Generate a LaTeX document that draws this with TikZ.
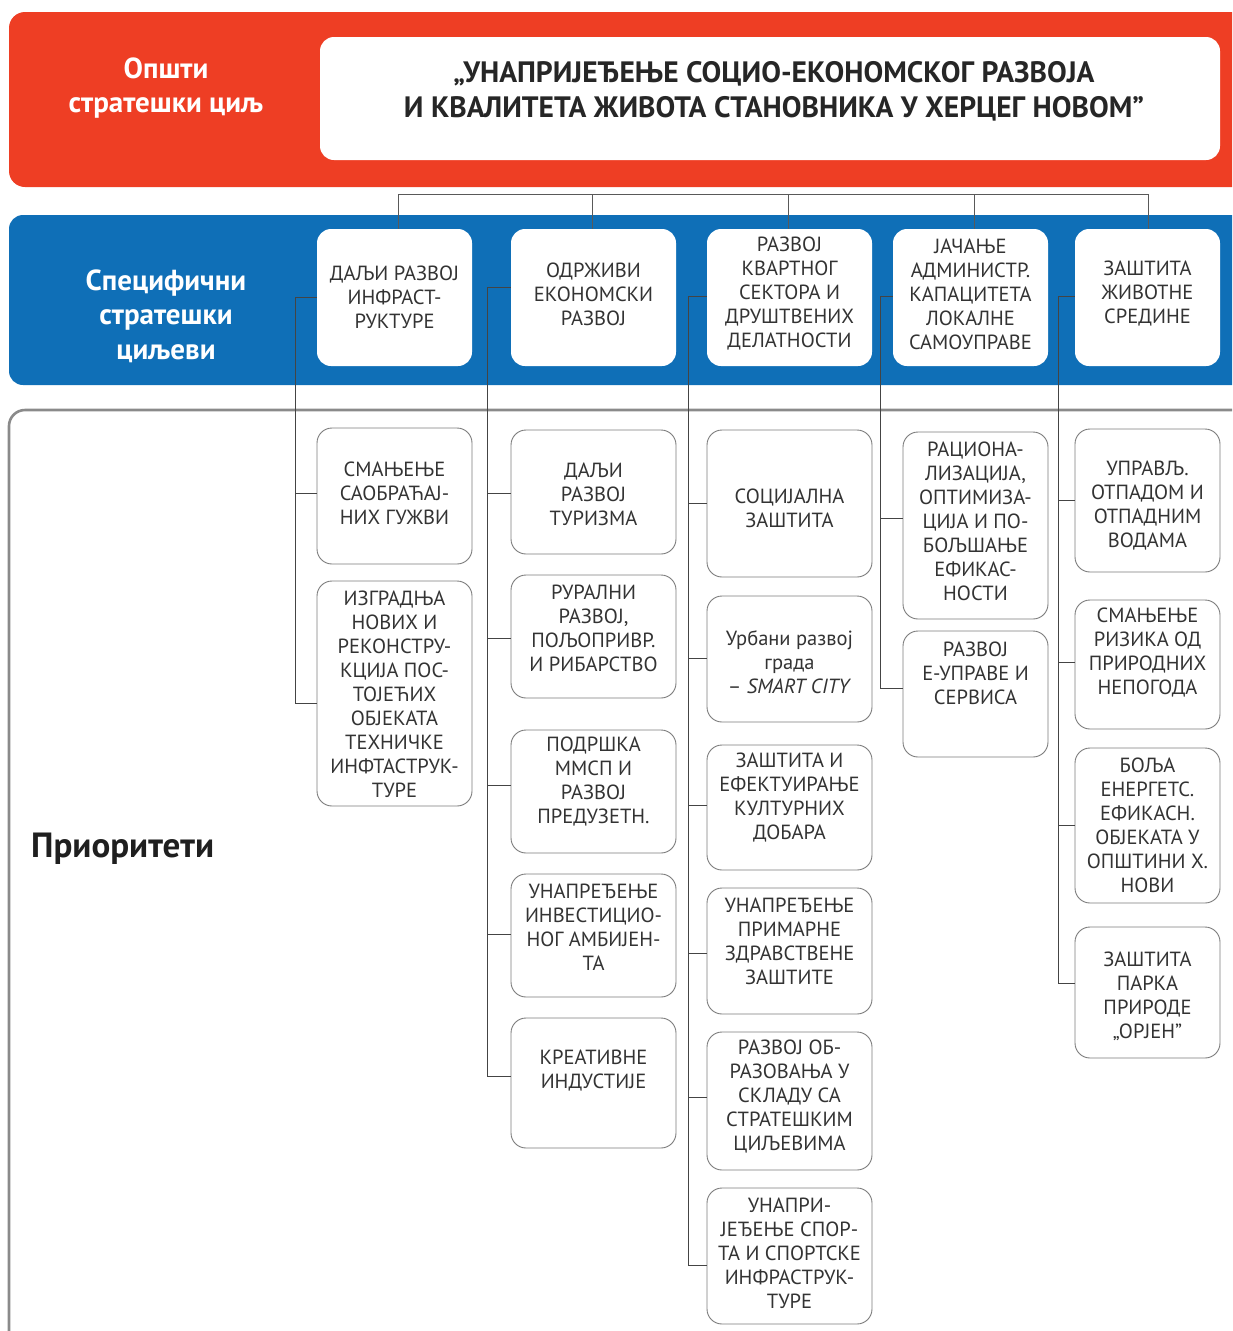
\documentclass[tikz,border=0pt]{standalone}
\usepackage{fontspec}
\setmainfont{PT Sans}
\usetikzlibrary{calc}
\definecolor{bandred}{HTML}{EE3E24}
\definecolor{bandblue}{HTML}{0F6FB7}
\definecolor{txt}{HTML}{333333}
\definecolor{frame}{HTML}{8A8A8A}
\definecolor{conncol}{HTML}{444444}
\tikzset{
  specbox/.style={fill=white, draw=none, rounded corners=14pt, inner sep=0pt},
  pbox/.style={fill=white, draw=frame!90!black, line width=0.9pt, rounded corners=15pt, inner sep=0pt},
  btext/.style={align=center, inner sep=0pt, text=txt, font=\fontsize{20.5}{24}\selectfont},
  conn/.style={draw=conncol, line width=1pt},
  sidelabel/.style={align=center, inner sep=0pt, text=white, font=\bfseries\fontsize{29}{34.5}\selectfont},
}
% style, name, x1, y1, x2, y2, ytext, text
\newcommand\boxat[8]{%
  \node[#1, minimum width={#5pt-#3pt}, minimum height={#6pt-#4pt}] (#2) at ({(#3+#5)/2},{(#4+#6)/2}) {};
  \node[btext] (#2t) at ({(#3+#5)/2},#7) {#8};}
\begin{document}
\begin{tikzpicture}[x=1pt,y=-1pt]
\useasboundingbox (0,0) rectangle (1232,1331);
\clip (0,0) rectangle (1232,1331);
% bands
\fill[bandred, rounded corners=16pt] (9,12) rectangle (1260,187);
\node[fill=white, rounded corners=14pt, minimum width=900pt, minimum height=123pt, inner sep=0pt] (goal) at (770,98.5) {};
\node[align=center, inner sep=0pt, text=black!85, font=\bfseries\fontsize{29.5}{35}\selectfont] (goalt) at (774,91.5) {„УНАПРИЈЕЂЕЊЕ СОЦИО-ЕКОНОМСКОГ РАЗВОЈА\\И КВАЛИТЕТА ЖИВОТА СТАНОВНИКА У ХЕРЦЕГ НОВОМ”};
\node[sidelabel] (lab1) at (166,88) {Општи\\стратешки циљ};
\fill[bandblue, rounded corners=14pt] (9,215) rectangle (1260,385);
\node[sidelabel] (lab2) at (166,316) {Специфични\\стратешки\\циљеви};
\draw[frame, line width=2.6pt, rounded corners=16pt] (9,1345) -- (9,410) -- (1260,410);
\node[inner sep=0pt, text=black!88, font=\bfseries\fontsize{35}{40}\selectfont, anchor=west] (lab3) at (31,849) {Приоритети};
% specific goals
\boxat{specbox}{s1}{317}{229}{472}{366}{297}{ДАЉИ РАЗВОЈ\\ИНФРАСТ-\\РУКТУРЕ}
\boxat{specbox}{s2}{511}{229}{676}{366}{294}{ОДРЖИВИ\\ЕКОНОМСКИ\\РАЗВОЈ}
\boxat{specbox}{s3}{707}{229}{872}{366}{294}{РАЗВОЈ\\КВАРТНОГ\\СЕКТОРА И\\ДРУШТВЕНИХ\\ДЕЛАТНОСТИ}
\boxat{specbox}{s4}{893}{229}{1048}{366}{294}{ЈАЧАЊЕ\\АДМИНИСТР.\\КАПАЦИТЕТА\\ЛОКАЛНЕ\\САМОУПРАВЕ}
\boxat{specbox}{s5}{1075}{229}{1220}{366}{294}{ЗАШТИТА\\ЖИВОТНЕ\\СРЕДИНЕ}
% top bus
\coordinate (bus) at (0,194);
\draw[conn, draw=black!65] ([xshift=3.5pt]s1.north) |- ([xshift=0.5pt]s5.north |- bus) -- ([xshift=0.5pt]s5.north);
\draw[conn, draw=black!65] ([xshift=-1.5pt]s2.north) -- ([xshift=-1.5pt]s2.north |- bus);
\draw[conn, draw=black!65] ([xshift=-1.5pt]s3.north) -- ([xshift=-1.5pt]s3.north |- bus);
\draw[conn, draw=black!65] ([xshift=3.5pt]s4.north) -- ([xshift=3.5pt]s4.north |- bus);
% priorities column 1
\boxat{pbox}{c1a}{317}{428}{472}{564}{493}{СМАЊЕЊЕ\\САОБРАЋАЈ-\\НИХ ГУЖВИ}
\boxat{pbox}{c1b}{317}{581}{472}{806}{694}{ИЗГРАДЊА\\НОВИХ И\\РЕКОНСТРУ-\\КЦИЈА ПОС-\\ТОЈЕЋИХ\\ОБЈЕКАТА\\ТЕХНИЧКЕ\\ИНФТАСТРУК-\\ТУРЕ}
% column 2
\boxat{pbox}{c2a}{511}{430}{676}{554}{494}{ДАЉИ\\РАЗВОЈ\\ТУРИЗМА}
\boxat{pbox}{c2b}{511}{575}{676}{698}{628}{РУРАЛНИ\\РАЗВОЈ,\\ПОЉОПРИВР.\\И РИБАРСТВО}
\boxat{pbox}{c2c}{511}{730}{676}{853}{782}{ПОДРШКА\\ММСП И\\РАЗВОЈ\\ПРЕДУЗЕТН.}
\boxat{pbox}{c2d}{511}{874}{676}{997}{927}{УНАПРЕЂЕЊЕ\\ИНВЕСТИЦИО-\\НОГ АМБИЈЕН-\\ТА}
\boxat{pbox}{c2e}{511}{1018}{676}{1148}{1071}{КРЕАТИВНЕ\\ИНДУСТИЈЕ}
% column 3
\boxat{pbox}{c3a}{707}{430}{872}{577}{508}{СОЦИЈАЛНА\\ЗАШТИТА}
\boxat{pbox}{c3b}{707}{596}{872}{722}{662}{Урбани развој\\града\\– \textit{SMART CITY}}
\boxat{pbox}{c3c}{707}{745}{872}{870}{798}{ЗАШТИТА И\\ЕФЕКТУИРАЊЕ\\КУЛТУРНИХ\\ДОБАРА}
\boxat{pbox}{c3d}{707}{888}{872}{1014}{941}{УНАПРЕЂЕЊЕ\\ПРИМАРНЕ\\ЗДРАВСТВЕНЕ\\ЗАШТИТЕ}
\boxat{pbox}{c3e}{707}{1032}{872}{1170}{1097}{РАЗВОЈ ОБ-\\РАЗОВАЊА У\\СКЛАДУ СА\\СТРАТЕШКИМ\\ЦИЉЕВИМА}
\boxat{pbox}{c3f}{707}{1188}{872}{1324}{1253}{УНАПРИ-\\ЈЕЂЕЊЕ СПОР-\\ТА И СПОРТСКЕ\\ИНФРАСТРУК-\\ТУРЕ}
% column 4
\boxat{pbox}{c4a}{903}{432}{1048}{619}{521}{РАЦИОНА-\\ЛИЗАЦИЈА,\\ОПТИМИЗА-\\ЦИЈА И ПО-\\БОЉШАЊЕ\\ЕФИКАС-\\НОСТИ}
\boxat{pbox}{c4b}{903}{631}{1048}{757}{673}{РАЗВОЈ\\Е-УПРАВЕ И\\СЕРВИСА}
% column 5
\boxat{pbox}{c5a}{1075}{429}{1220}{572}{506}{УПРАВЉ.\\ОТПАДОМ И\\ОТПАДНИМ\\ВОДАМА}
\boxat{pbox}{c5b}{1075}{600}{1220}{729}{653}{СМАЊЕЊЕ\\РИЗИКА ОД\\ПРИРОДНИХ\\НЕПОГОДА}
\boxat{pbox}{c5c}{1075}{748}{1220}{903}{825}{БОЉА\\ЕНЕРГЕТС.\\ЕФИКАСН.\\ОБЈЕКАТА У\\ОПШТИНИ Х.\\НОВИ}
\boxat{pbox}{c5d}{1075}{927}{1220}{1058}{996}{ЗАШТИТА\\ПАРКА\\ПРИРОДЕ\\„ОРЈЕН”}
% trunks
\coordinate (t1) at (295,297);
\coordinate (t2) at (487,287);
\coordinate (t3) at (688,296);
\coordinate (t4) at (880,296);
\coordinate (t5) at (1058,296);
\draw[conn] (s1.west |- t1) -- (t1) |- (c1b.west |- 0,703);
\draw[conn] (s2.west |- t2) -- (t2) |- (c2e.west |- 0,1076);
\draw[conn] (s3.west |- t3) -- (t3) |- (c3f.west |- 0,1265);
\draw[conn] (s4.west |- t4) -- (t4) |- (c4b.west |- 0,688);
\draw[conn] (s5.west |- t5) -- (t5) |- (c5d.west |- 0,983);
% branches
\draw[conn] (c1a.west |- 0,493) -- (t1 |- 0,493);
\draw[conn] (c2a.west |- 0,493) -- (t2 |- 0,493);
\draw[conn] (c2b.west |- 0,638) -- (t2 |- 0,638);
\draw[conn] (c2c.west |- 0,785) -- (t2 |- 0,785);
\draw[conn] (c2d.west |- 0,934) -- (t2 |- 0,934);
\draw[conn] (c3a.west |- 0,503) -- (t3 |- 0,503);
\draw[conn] (c3b.west |- 0,658) -- (t3 |- 0,658);
\draw[conn] (c3c.west |- 0,805) -- (t3 |- 0,805);
\draw[conn] (c3d.west |- 0,953) -- (t3 |- 0,953);
\draw[conn] (c3e.west |- 0,1097) -- (t3 |- 0,1097);
\draw[conn] (c4a.west |- 0,518) -- (t4 |- 0,518);
\draw[conn] (c5a.west |- 0,500) -- (t5 |- 0,500);
\draw[conn] (c5b.west |- 0,662) -- (t5 |- 0,662);
\draw[conn] (c5c.west |- 0,825) -- (t5 |- 0,825);
\end{tikzpicture}
\end{document}
